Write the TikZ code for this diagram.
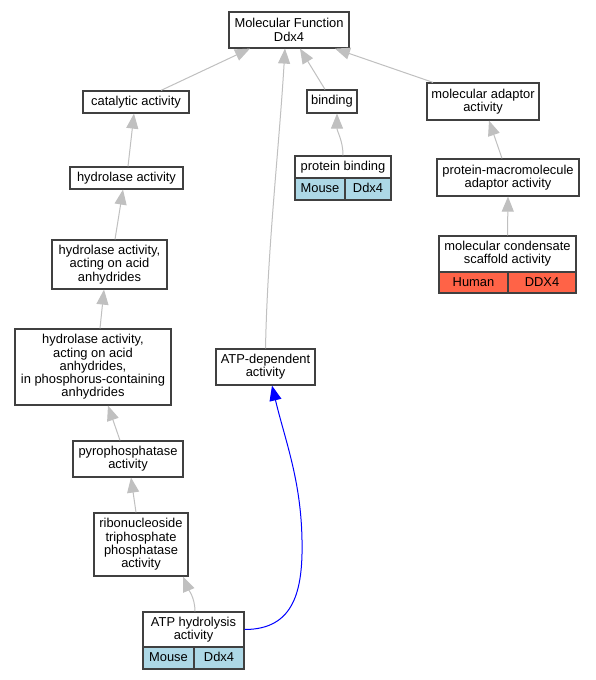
\documentclass[tikz,border=0pt]{standalone}
\usepackage{fontspec}
\setmainfont{Liberation Sans}
\usetikzlibrary{arrows.meta}
\definecolor{edgegray}{HTML}{C0C0C0}
\definecolor{boxline}{HTML}{404040}
\definecolor{mouseblue}{HTML}{ADD8E6}
\definecolor{humanred}{HTML}{FF6347}
\begin{document}
\begin{tikzpicture}[x=1pt,y=-1pt,
  term/.style={draw=boxline, line width=1.2pt, fill=white, inner sep=0pt, align=center,
    font=\fontsize{12.9}{13.3}\selectfont},
  mcell/.style={term, fill=mouseblue, text height=9.3pt, text depth=1.5pt},
  hcell/.style={term, fill=humanred, text height=9.3pt, text depth=1.5pt},
  isa/.style={draw=edgegray, line width=1pt, -{Triangle[length=15pt,width=12pt]}},
  blueedge/.style={draw=blue, line width=1pt, -{Triangle[length=15pt,width=12pt]}}]
\fill[white] (0,0) rectangle (595,680);
\useasboundingbox (0,0) rectangle (595,680);

% nodes
\node[term, minimum width=120pt, minimum height=36pt] (mf) at (289,30) {Molecular Function\\Ddx4};
\node[term, minimum width=106pt, minimum height=22pt] (cat) at (136,102) {catalytic activity};
\node[term, minimum width=50pt, minimum height=23pt] (bind) at (332,101.5) {binding};
\node[term, minimum width=112pt, minimum height=37pt] (mad) at (483,101.5) {molecular adaptor\\activity};
\node[term, minimum width=113pt, minimum height=22pt] (hyd) at (126.5,178) {hydrolase activity};
\node[term, minimum width=96pt, minimum height=22pt] (pb) at (343,167) {protein binding};
\node[mcell, minimum width=50pt, minimum height=22pt] (pbL) at (320,189) {Mouse};
\node[mcell, minimum width=46pt, minimum height=22pt] (pbR) at (368,189) {Ddx4};
\node[term, minimum width=142pt, minimum height=37pt] (pma) at (508,177.5) {protein-macromolecule\\adaptor activity};
\node[term, minimum width=137pt, minimum height=36pt] (mcs) at (507.5,254) {molecular condensate\\scaffold activity};
\node[hcell, minimum width=69pt, minimum height=21pt] (mcsL) at (473.5,282.5) {Human};
\node[hcell, minimum width=68pt, minimum height=21pt] (mcsR) at (542,282.5) {DDX4};
\node[term, minimum width=115pt, minimum height=49pt] (hacid) at (109.5,264.5) {hydrolase activity,\\acting on acid\\anhydrides};
\node[term, minimum width=156pt, minimum height=76pt] (hphos) at (93,367) {hydrolase activity,\\acting on acid\\anhydrides,\\in phosphorus-containing\\anhydrides};
\node[term, minimum width=99pt, minimum height=36pt] (atpd) at (265.5,367) {ATP-dependent\\activity};
\node[term, minimum width=110pt, minimum height=36pt] (pyro) at (128,459) {pyrophosphatase\\activity};
\node[term, minimum width=94pt, minimum height=63pt] (ribo) at (141,544.5) {ribonucleoside\\triphosphate\\phosphatase\\activity};
\node[term, minimum width=101pt, minimum height=35pt] (atph) at (193.5,629.5) {ATP hydrolysis\\activity};
\node[mcell, minimum width=51pt, minimum height=22pt] (atphL) at (168.5,658) {Mouse};
\node[mcell, minimum width=50pt, minimum height=22pt] (atphR) at (219,658) {Ddx4};

% edges
\draw[isa] ([xshift=25pt]cat.north) -- ([xshift=-39pt]mf.south);
\draw[isa] (atpd.north) .. controls ([xshift=2pt,yshift=100pt]atpd.north) and ([xshift=-10pt,yshift=-100pt]mf.south) .. ([xshift=-4pt]mf.south);
\draw[isa] ([xshift=-7pt]bind.north) -- ([xshift=11pt]mf.south);
\draw[isa] ([xshift=-50pt]mad.north) -- ([xshift=46pt]mf.south);
\draw[isa] (pb.north) .. controls ([yshift=15pt]pb.north) and ([xshift=5pt,yshift=-18pt]bind.south) .. ([xshift=5pt]bind.south);
\draw[isa] ([xshift=-6pt]pma.north) -- ([xshift=6pt]mad.south);
\draw[isa] (mcs.north) -- (pma.south);
\draw[isa] ([xshift=1.5pt]hyd.north) -- ([xshift=-2pt]cat.south);
\draw[isa] ([xshift=5.5pt]hacid.north) -- ([xshift=-3.5pt]hyd.south);
\draw[isa] ([xshift=7pt]hphos.north) -- ([xshift=-5.5pt]hacid.south);
\draw[isa] ([xshift=-8pt]pyro.north) -- ([xshift=15pt]hphos.south);
\draw[isa] ([xshift=-5pt]ribo.north) -- ([xshift=3pt]pyro.south);
\draw[isa] ([xshift=1.5pt]atph.north) .. controls ([xshift=1.5pt,yshift=14pt]atph.north) and ([xshift=47pt,yshift=-12pt]ribo.south) .. ([xshift=42pt]ribo.south);
\coordinate (bend) at (302,540);
\draw[blueedge] (atph.east) .. controls ([xshift=50pt]atph.east) and (303,590) .. (bend)
  .. controls (301,480) and (285,440) .. ([xshift=6.5pt]atpd.south);
\end{tikzpicture}
\end{document}
